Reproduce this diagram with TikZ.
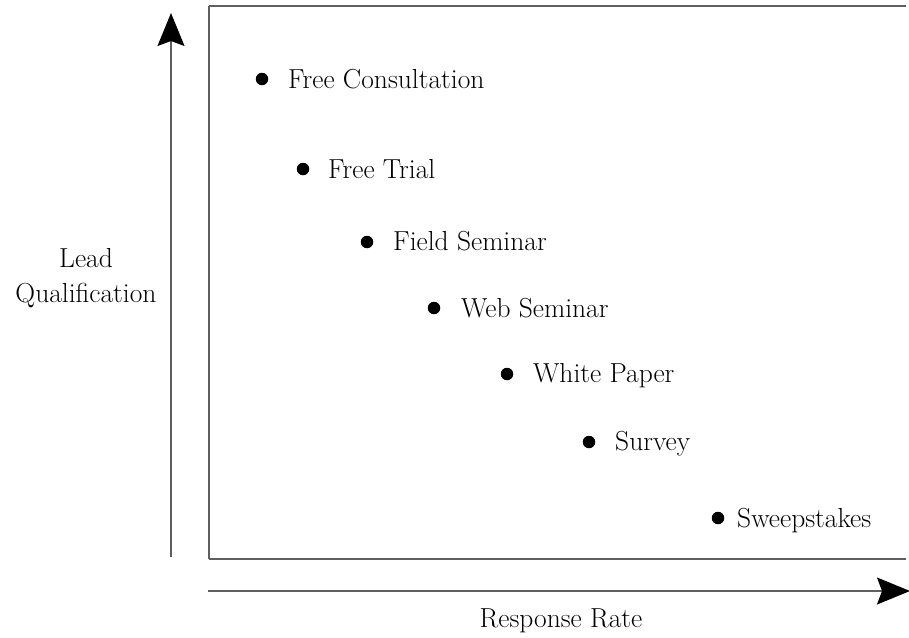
\documentclass[tikz,border=0pt]{standalone}
\usepackage{fontspec}
\usetikzlibrary{arrows.meta}
\definecolor{axisgray}{RGB}{95,95,95}
\begin{document}
\begin{tikzpicture}[x=1pt,y=-1pt,
  axis/.style={draw=axisgray,line width=1.3pt,-{Stealth[length=33pt,width=27pt,inset=5pt,black]}},
  frame/.style={draw=axisgray,line width=1.3pt},
  dot/.style={circle,fill=black,inner sep=0pt,minimum size=12.5pt},
  lbl/.style={anchor=base west,inner sep=0pt,font=\fontsize{27.5}{35}\selectfont},
  axlbl/.style={inner sep=0pt,align=center,font=\fontsize{27.5}{35}\selectfont}]
\useasboundingbox (0,0) rectangle (909,637);
% frame (its right side lies beyond the picture)
\coordinate (ftl) at (209,6);
\coordinate (fbl) at (209,559);
\coordinate (ftr) at (906,6);
\coordinate (fbr) at (906,559);
\draw[frame] (ftl) -- (ftr);
\draw[frame] (ftl) -- (fbl);
\draw[frame] (fbl) -- (fbr);
% axes
\coordinate (ybot) at (171,557);
\coordinate (ytop) at (171,13);
\coordinate (xleft) at (208,591);
\coordinate (xright) at (910,591);
\draw[axis] (ybot) -- (ytop);
\draw[axis] (xleft) -- (xright);
\node[axlbl,anchor=north] (ylab) at (86,247.9) {Lead\\Qualification};
\node[axlbl,anchor=base] (xlab) at (561,627) {Response Rate};
% items
\node[dot] (d1) at (262,79) {};
\node[lbl] (t1) at (288,88) {Free Consultation};
\node[dot] (d2) at (303,169) {};
\node[lbl] (t2) at (328,178) {Free Trial};
\node[dot] (d3) at (367,242) {};
\node[lbl] (t3) at (393,250) {Field Seminar};
\node[dot] (d4) at (434,308) {};
\node[lbl] (t4) at (461,317) {Web Seminar};
\node[dot] (d5) at (507,374) {};
\node[lbl] (t5) at (533,382) {White Paper};
\node[dot] (d6) at (589,442) {};
\node[lbl] (t6) at (615,450) {Survey};
\node[dot] (d7) at (718,518) {};
\node[lbl] (t7) at (737,527) {Sweepstakes};
\end{tikzpicture}
\end{document}
